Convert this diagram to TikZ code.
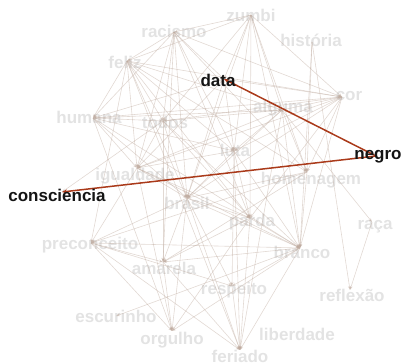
\documentclass[tikz,border=0pt]{standalone}
\usepackage{fontspec}
\setmainfont{Liberation Sans}
\usetikzlibrary{arrows.meta}
\definecolor{edgecol}{RGB}{190,170,158}
\definecolor{hot}{RGB}{170,58,26}
\begin{document}
\begin{tikzpicture}[x=1pt,y=-1pt,
  lbl/.style={font=\bfseries\fontsize{17}{19}\selectfont, text=black!11, inner sep=0pt},
  hotlbl/.style={lbl, text=black!92},
  edge/.style={draw=edgecol, line width=0.6pt, opacity=0.45, -{Stealth[length=4pt,width=3pt]}},
  hotedge/.style={draw=hot, line width=1.5pt, -{Stealth[length=5pt,width=4pt]}}]
\useasboundingbox (0,0) rectangle (402,364);

% word positions (where the links meet)
\coordinate (racismo) at (174,32);
\coordinate (zumbi) at (251,15);
\coordinate (historia) at (312,42);
\coordinate (feliz) at (127,61);
\coordinate (data) at (224,79);
\coordinate (cor) at (342,97);
\coordinate (humana) at (93,118);
\coordinate (todos) at (163,121);
\coordinate (alguma) at (282,110);
\coordinate (luta) at (234,151);
\coordinate (negro) at (376,156);
\coordinate (igualdade) at (137,168);
\coordinate (consciencia) at (62,192);
\coordinate (homenagem) at (307,172);
\coordinate (brasil) at (187,198);
\coordinate (preconceito) at (91,243);
\coordinate (parda) at (250,218);
\coordinate (raca) at (372,222);
\coordinate (branco) at (300,248);
\coordinate (amarela) at (163,262);
\coordinate (respeito) at (232,286);
\coordinate (reflexao) at (350,290);
\coordinate (escurinho) at (116,316);
\coordinate (orgulho) at (172,331);
\coordinate (liberdade) at (296,332);
\coordinate (feriado) at (240,350);

% faded word labels
\node[lbl] (racismo-t) at (174,31) {racismo};
\node[lbl] (zumbi-t) at (251,15) {zumbi};
\node[lbl] (historia-t) at (311,40) {história};
\node[lbl] (feliz-t) at (125,62) {feliz};
\node[lbl] (cor-t) at (349,96) {cor};
\node[lbl] (humana-t) at (89,117) {humana};
\node[lbl] (todos-t) at (165,122) {todos};
\node[lbl] (alguma-t) at (283,108) {alguma};
\node[lbl] (luta-t) at (235,150) {luta};
\node[lbl] (igualdade-t) at (135,176) {igualdade};
\node[lbl] (homenagem-t) at (311,180) {homenagem};
\node[lbl] (brasil-t) at (187,203) {brasil};
\node[lbl] (preconceito-t) at (90,245) {preconceito};
\node[lbl] (parda-t) at (252,222) {parda};
\node[lbl] (raca-t) at (375,227) {raça};
\node[lbl] (branco-t) at (302,252) {branco};
\node[lbl] (amarela-t) at (164,268) {amarela};
\node[lbl] (respeito-t) at (234,290) {respeito};
\node[lbl] (reflexao-t) at (352,295) {reflexão};
\node[lbl] (escurinho-t) at (116,316) {escurinho};
\node[lbl] (orgulho-t) at (172,340) {orgulho};
\node[lbl] (liberdade-t) at (297,334) {liberdade};
\node[lbl] (feriado-t) at (240,356) {feriado};

% background links
\foreach \a/\b in {
  racismo/feliz, zumbi/racismo, racismo/cor, racismo/data, racismo/todos,
  racismo/luta, racismo/brasil, racismo/igualdade, racismo/humana,
  racismo/parda, racismo/amarela, racismo/homenagem,
  zumbi/feliz, zumbi/cor, zumbi/data, zumbi/todos, zumbi/alguma, zumbi/luta,
  zumbi/brasil, zumbi/parda, zumbi/homenagem, zumbi/branco,
  feliz/cor, feliz/humana, feliz/todos, feliz/luta, feliz/brasil,
  feliz/alguma, feliz/igualdade, feliz/homenagem, feliz/preconceito,
  feliz/feriado, feliz/parda,
  historia/reflexao, historia/branco, historia/homenagem,
  data/cor, data/humana, data/brasil, data/igualdade, data/luta,
  cor/humana, cor/alguma, cor/todos, cor/branco, cor/brasil, cor/parda,
  cor/homenagem, cor/igualdade, cor/luta,
  humana/alguma, humana/igualdade, humana/brasil, humana/luta,
  humana/branco, humana/orgulho, humana/todos,
  todos/alguma, todos/igualdade, todos/consciencia, todos/brasil,
  todos/parda, todos/branco, todos/amarela,
  alguma/brasil, alguma/luta, alguma/raca, alguma/homenagem,
  alguma/branco, alguma/feriado, alguma/igualdade,
  luta/brasil, luta/igualdade, luta/branco, luta/parda, luta/respeito,
  luta/feriado,
  igualdade/brasil, igualdade/preconceito, igualdade/parda,
  igualdade/branco, igualdade/orgulho,
  homenagem/brasil, homenagem/branco, homenagem/preconceito,
  homenagem/amarela,
  brasil/preconceito, brasil/branco, brasil/parda, brasil/amarela,
  brasil/respeito, brasil/feriado, brasil/orgulho,
  preconceito/branco, preconceito/amarela, preconceito/feriado,
  preconceito/orgulho, preconceito/respeito,
  parda/branco, parda/feriado, parda/amarela, parda/orgulho,
  branco/amarela, branco/feriado, branco/orgulho, branco/respeito,
  branco/escurinho,
  respeito/feriado, amarela/feriado, amarela/orgulho,
  raca/reflexao}
  \draw[edge] (\a) -- (\b);

% highlighted links
\draw[hotedge] (negro) -- (data);
\draw[hotedge] (negro) -- (consciencia);

% highlighted word labels
\node[hotlbl] (data-t) at (218,80) {data};
\node[hotlbl] (negro-t) at (378,157) {negro};
\node[hotlbl] (consciencia-t) at (57,195) {consciencia};
\end{tikzpicture}
\end{document}
